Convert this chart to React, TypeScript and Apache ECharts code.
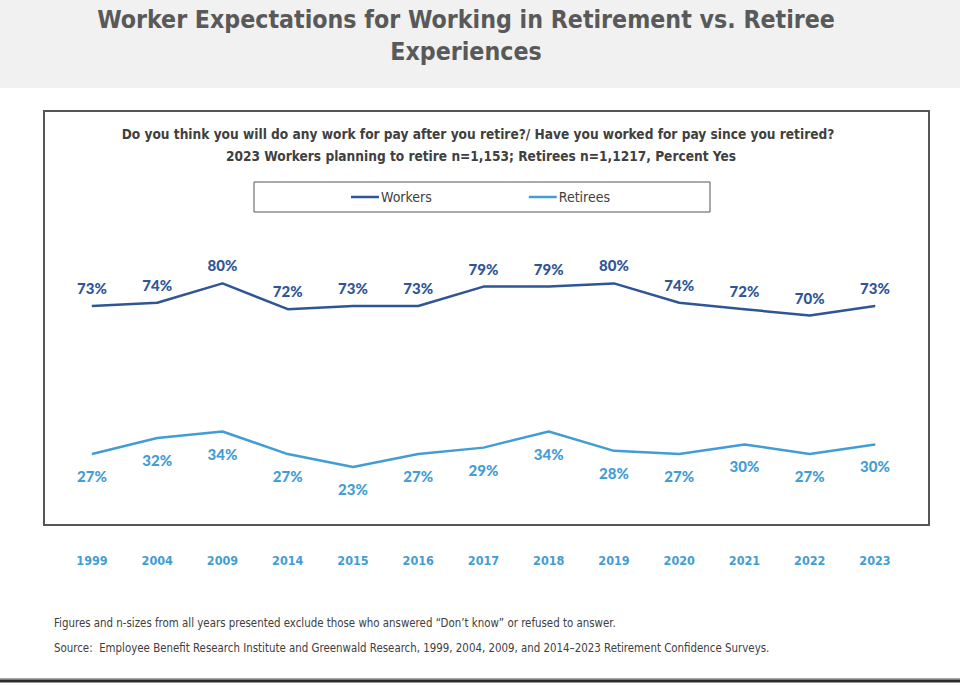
import React, { useEffect, useRef } from "react";
import * as echarts from "echarts";

const years = ["1999", "2004", "2009", "2014", "2015", "2016", "2017", "2018", "2019", "2020", "2021", "2022", "2023"];
const workers = [73, 74, 80, 72, 73, 73, 79, 79, 80, 74, 72, 70, 73];
const retirees = [27, 32, 34, 27, 23, 27, 29, 34, 28, 27, 30, 27, 30];

const titleLines = ["Worker Expectations for Working in Retirement vs. Retiree", "Experiences"];
const subtitle1 = "Do you think you will do any work for pay after you retire?/ Have you worked for pay since you retired?";
const subtitle2 = "2023 Workers planning to retire n=1,153; Retirees n=1,1217, Percent Yes";
const note1 = "Figures and n-sizes from all years presented exclude those who answered \u201cDon\u2019t know\u201d or refused to answer.";
const note2 = "Source:  Employee Benefit Research Institute and Greenwald Research, 1999, 2004, 2009, and 2014\u20132023 Retirement Confidence Surveys.";

const COND = "'DejaVu Sans Condensed', 'DejaVu Sans', sans-serif";
const LABEL = "Lato, 'Noto Sans', sans-serif";
const DARK_BLUE = "#2f5597";
const LIGHT_BLUE = "#429dd4";

export default function App() {
  const ref = useRef<HTMLDivElement>(null);
  useEffect(() => {
    document.body.style.margin = "0";
    const chart = echarts.init(ref.current!, null, { renderer: "svg" });
    chart.setOption({
      animation: false,
      backgroundColor: "#ffffff",
      graphic: [
        { type: "rect", shape: { x: 0, y: 0, width: 960, height: 88 }, style: { fill: "#f1f1f1" }, z: -10 },
        {
          type: "text", x: 466, y: 19,
          style: { text: titleLines[0], font: `bold 24.7px ${COND}`, fill: "#595959", align: "center", verticalAlign: "middle" },
        },
        {
          type: "text", x: 466, y: 51,
          style: { text: titleLines[1], font: `bold 24.7px ${COND}`, fill: "#595959", align: "center", verticalAlign: "middle" },
        },
        {
          type: "rect", shape: { x: 44, y: 111, width: 885, height: 414 },
          style: { fill: "none", stroke: "#555555", lineWidth: 2 }, z: -5,
        },
        {
          type: "text", x: 478, y: 134,
          style: { text: subtitle1, font: `bold 13.6px ${COND}`, fill: "#404040", align: "center", verticalAlign: "middle" },
        },
        {
          type: "text", x: 481, y: 156,
          style: { text: subtitle2, font: `bold 13.6px ${COND}`, fill: "#404040", align: "center", verticalAlign: "middle" },
        },
        {
          type: "rect", shape: { x: 254, y: 182, width: 456, height: 30 },
          style: { fill: "none", stroke: "#555555", lineWidth: 1 }, z: -5,
        },
        {
          type: "text", x: 54, y: 623,
          style: { text: note1, font: `11.4px ${COND}`, fill: "#404040", align: "left", verticalAlign: "middle" },
        },
        {
          type: "text", x: 54, y: 648,
          style: { text: note2, font: `11.4px ${COND}`, fill: "#404040", align: "left", verticalAlign: "middle" },
        },
        { type: "rect", shape: { x: 0, y: 678, width: 960, height: 1.5 }, style: { fill: "#a6a6a6" } },
        { type: "rect", shape: { x: 0, y: 679.5, width: 960, height: 3 }, style: { fill: "#2b2b2b" } },
      ],
      legend: {
        left: 346,
        top: 185,
        icon: "rect",
        itemWidth: 28,
        itemHeight: 2.5,
        itemGap: 97,
        textStyle: { fontFamily: COND, fontSize: 14, color: "#404040", padding: [0, 0, 0, -3] },
        data: ["Workers", "Retirees"],
      },
      grid: { left: 59.4, right: 52.4, top: 219, bottom: 144 },
      xAxis: {
        type: "category",
        data: years,
        boundaryGap: true,
        axisLine: { show: false },
        axisTick: { show: false },
        axisLabel: { color: LIGHT_BLUE, fontFamily: COND, fontWeight: "bold", fontSize: 12.5, margin: 13 },
      },
      yAxis: { type: "value", min: 0, max: 100, show: false, splitLine: { show: false } },
      series: [
        {
          name: "Workers",
          type: "line",
          data: workers,
          symbol: "circle",
          symbolSize: 1,
          showSymbol: true,
          lineStyle: { color: DARK_BLUE, width: 2.5 },
          itemStyle: { color: DARK_BLUE },
          label: {
            show: true, position: "top", distance: 10,
            formatter: "{c}%", color: DARK_BLUE, fontFamily: LABEL, fontWeight: 900, fontSize: 15,
          },
        },
        {
          name: "Retirees",
          type: "line",
          data: retirees,
          symbol: "circle",
          symbolSize: 1,
          showSymbol: true,
          lineStyle: { color: LIGHT_BLUE, width: 2.5 },
          itemStyle: { color: LIGHT_BLUE },
          label: {
            show: true, position: "bottom", distance: 14,
            formatter: "{c}%", color: LIGHT_BLUE, fontFamily: LABEL, fontWeight: 900, fontSize: 15,
          },
        },
      ],
    });
    return () => chart.dispose();
  }, []);
  return <div ref={ref} style={{ width: 960, height: 685 }} />;
}
